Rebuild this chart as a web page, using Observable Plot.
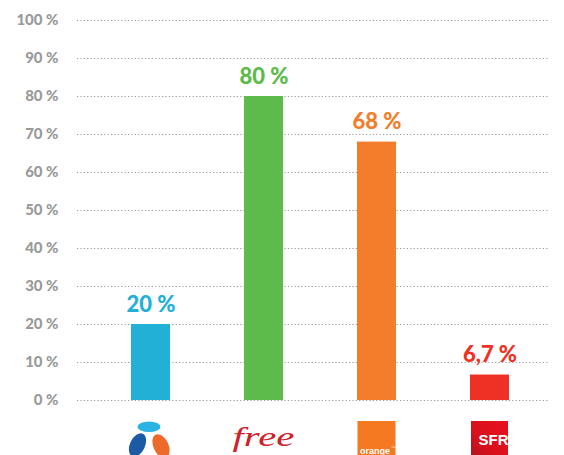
<!DOCTYPE html>
<html>
<head>
<meta charset="utf-8">
<script src="https://cdn.jsdelivr.net/npm/d3@7"></script>
<script src="https://cdn.jsdelivr.net/npm/@observablehq/plot@0.6"></script>
<style>
  html, body { margin: 0; padding: 0; background: #fff; }
  #chart svg { display: block; }
</style>
</head>
<body>
<div id="chart"></div>
<script>
const categories = ["Bouygues Telecom", "Free", "Orange", "SFR"];
const values = [20, 80, 68, 6.7];
const colors = ["#23b0d6", "#5dbb4c", "#f47d2c", "#ee3124"];
const yTicks = [0, 10, 20, 30, 40, 50, 60, 70, 80, 90, 100];

const data = categories.map((c, i) => ({category: c, value: values[i], color: colors[i]}));
const fmt = v => String(v).replace(".", ",") + " %";

function logos(index, scales, vals, dims) {
  const g = d3.create("svg:g");
  const defs = g.append("defs");
  const grad = defs.append("linearGradient").attr("id", "sfrgrad")
    .attr("x1", "100%").attr("y1", "0%").attr("x2", "0%").attr("y2", "100%");
  grad.append("stop").attr("offset", "0%").attr("stop-color", "#e8101e");
  grad.append("stop").attr("offset", "60%").attr("stop-color", "#d9101c");
  grad.append("stop").attr("offset", "100%").attr("stop-color", "#a8141c");
  const bw = scales.x.bandwidth();
  const top = dims.height - dims.marginBottom + 21;
  categories.forEach((c, i) => {
    const cx = scales.x(c) + bw / 2;
    const lg = g.append("g").attr("transform", `translate(${cx},${top})`);
    if (i === 0) {
      lg.append("ellipse").attr("cx", -1.5).attr("cy", 5.8).attr("rx", 11.5).attr("ry", 5.3).attr("fill", "#2bb3e3");
      lg.append("ellipse").attr("rx", 7.5).attr("ry", 12.5).attr("fill", "#1d5aa5")
        .attr("transform", "translate(-13,24) rotate(25)");
      lg.append("ellipse").attr("rx", 7.5).attr("ry", 12.5).attr("fill", "#ee6a2a")
        .attr("transform", "translate(10.5,25) rotate(-25)");
    } else if (i === 1) {
      lg.append("text").text("free").attr("x", 0).attr("y", 25)
        .attr("text-anchor", "middle").attr("font-family", "Liberation Serif")
        .attr("font-style", "italic").attr("font-size", 27).attr("fill", "#cc2229")
        .attr("textLength", 62).attr("lengthAdjust", "spacingAndGlyphs");
    } else if (i === 2) {
      lg.append("rect").attr("x", -19).attr("y", 0).attr("width", 38).attr("height", 40).attr("fill", "#f47920");
      lg.append("text").text("orange").attr("x", -16.5).attr("y", 32.5)
        .attr("text-anchor", "start")
        .attr("font-family", "Liberation Sans").attr("font-weight", "bold")
        .attr("font-size", 9).attr("fill", "#fff");
      lg.append("text").text("™").attr("x", 14.5).attr("y", 28)
        .attr("text-anchor", "start")
        .attr("font-family", "Liberation Sans").attr("font-size", 4).attr("fill", "#fff");
    } else {
      lg.append("rect").attr("x", -18.5).attr("y", 0).attr("width", 37).attr("height", 40).attr("fill", "url(#sfrgrad)");
      lg.append("text").text("SFR").attr("x", 4).attr("y", 24)
        .attr("text-anchor", "middle").attr("font-family", "Liberation Sans")
        .attr("font-weight", "bold").attr("font-size", 15).attr("fill", "#fff");
    }
  });
  return g.node();
}

const chart = Plot.plot({
  width: 564,
  height: 455,
  marginLeft: 77,
  marginRight: 16,
  marginTop: 20,
  marginBottom: 55,
  style: {fontFamily: "Lato, sans-serif", background: "#fff"},
  x: {domain: categories, paddingInner: 0.657, paddingOuter: 0.4, align: 0.583, axis: null},
  y: {domain: [0, 100], axis: null},
  marks: [
    Plot.gridY(yTicks, {stroke: "#9a9a9a", strokeOpacity: 1, strokeDasharray: "1.2,2.2", strokeWidth: 1}),
    Plot.axisY(yTicks, {
      label: null, tickSize: 0, tickPadding: 19, tickFormat: d => d + " %",
      fontSize: 15, fontWeight: 900, fill: "#9a9a9a"
    }),
    Plot.barY(data, {x: "category", y: "value", fill: "color"}),
    Plot.text(data, {
      x: "category", y: "value", text: d => fmt(d.value), fill: "color",
      lineAnchor: "bottom", dy: -13, fontSize: 22, fontWeight: 900
    }),
    logos
  ]
});
document.getElementById("chart").appendChild(chart);
</script>
</body>
</html>
